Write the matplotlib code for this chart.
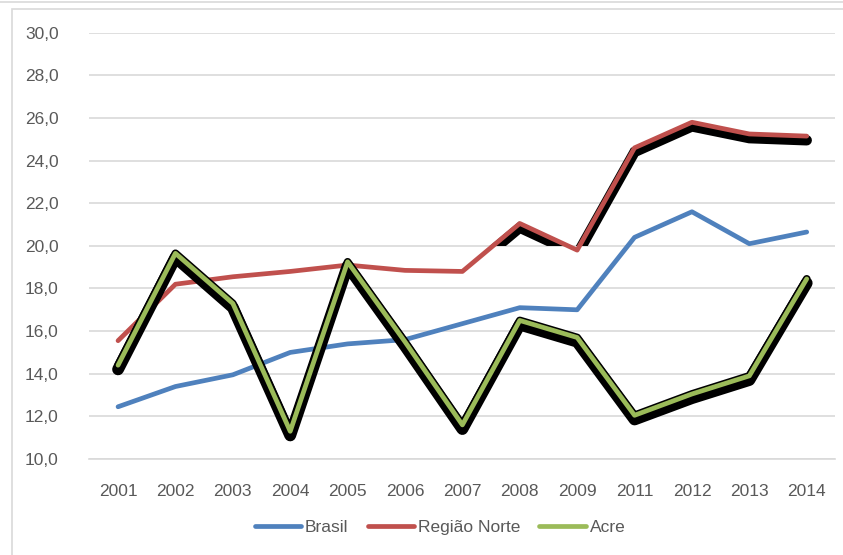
"""Taxa por ano: Brasil, Região Norte e Acre (linhas estilo Excel)."""

import matplotlib

matplotlib.use("Agg")
import matplotlib.pyplot as plt
import matplotlib.patheffects as pe
from matplotlib.lines import Line2D
from matplotlib.patches import Rectangle
from matplotlib.transforms import ScaledTranslation
import numpy as np

years = ["2001", "2002", "2003", "2004", "2005", "2006", "2007",
         "2008", "2009", "2011", "2012", "2013", "2014"]
brasil = [12.45, 13.4, 13.95, 15.0, 15.4, 15.6, 16.35, 17.1, 17.0, 20.4, 21.6, 20.1, 20.65]
regiao_norte = [15.55, 18.2, 18.55, 18.8, 19.1, 18.85, 18.8, 21.05, 19.8, 24.6, 25.8, 25.25, 25.15]
acre = [14.4, 19.65, 17.3, 11.3, 19.25, 15.5, 11.6, 16.5, 15.7, 12.05, 13.05, 13.9, 18.45]
series_names = ["Brasil", "Região Norte", "Acre"]

BLUE = "#4f81bd"
RED = "#c0504d"
GREEN = "#9bbb59"
TXT = "#595959"
GRID = "#d9d9d9"

plt.rcParams["font.family"] = ["Liberation Sans", "DejaVu Sans"]

fig = plt.figure(figsize=(8.43, 5.55), dpi=100)
ax = fig.add_axes([0.106, 0.173, 0.885, 0.768])
x = np.arange(len(years))

# frame of the chart area
fig.add_artist(Rectangle((12 / 843, -0.05), 1.2, 1 - 9 / 555 + 0.05, transform=fig.transFigure,
                         fill=False, edgecolor=GRID, linewidth=1.2))
fig.add_artist(Line2D([0, 1], [1 - 2 / 555] * 2, transform=fig.transFigure,
                      color=GRID, linewidth=1.2))

ax.plot(x, brasil, color=BLUE, linewidth=3.4, solid_capstyle="round", zorder=3)

# black shadow under Região Norte, only visible above 20,0
shift = ax.transData + ScaledTranslation(0, -3 / 72, fig.dpi_scale_trans)
shadow, = ax.plot(x, regiao_norte, color="black", linewidth=7.5, transform=shift,
                  solid_capstyle="round", solid_joinstyle="miter", zorder=2)
shadow.set_clip_path(Rectangle((-0.5, 20), 13, 10, transform=ax.transData))
ax.plot(x, regiao_norte, color=RED, linewidth=3.4, solid_capstyle="round", zorder=4)

ax.plot(x, acre, color=GREEN, linewidth=3.4, solid_capstyle="round", zorder=5,
        path_effects=[pe.Stroke(linewidth=8.5, foreground="black", offset=(0, -3)),
                      pe.Stroke(linewidth=5.6, foreground="black"),
                      pe.Normal()])

ax.set_xlim(-0.5, len(years) - 0.5)
ax.set_ylim(10, 30)
ticks = np.arange(10, 31, 2)
ax.set_yticks(ticks)
ax.set_yticklabels([f"{v:.1f}".replace(".", ",") for v in ticks])
ax.set_xticks(x, years)
ax.grid(axis="y", color=GRID, linewidth=1.2)
ax.set_axisbelow(True)
for side in ("top", "right", "left"):
    ax.spines[side].set_visible(False)
ax.spines["bottom"].set_color(GRID)
ax.spines["bottom"].set_linewidth(1.2)
ax.tick_params(axis="both", length=0, labelsize=12.5, labelcolor=TXT)
ax.tick_params(axis="y", pad=22)
ax.tick_params(axis="x", pad=18)

handles = [Line2D([], [], color=c, linewidth=3.4, solid_capstyle="round")
           for c in (BLUE, RED, GREEN)]
fig.legend(handles, series_names, loc="center", bbox_to_anchor=(0.522, 0.05), ncol=3, frameon=False,
           fontsize=12.5, labelcolor=TXT, handlelength=2.7, handletextpad=0.2, columnspacing=1.1)

fig.savefig("out.png", dpi=100)
